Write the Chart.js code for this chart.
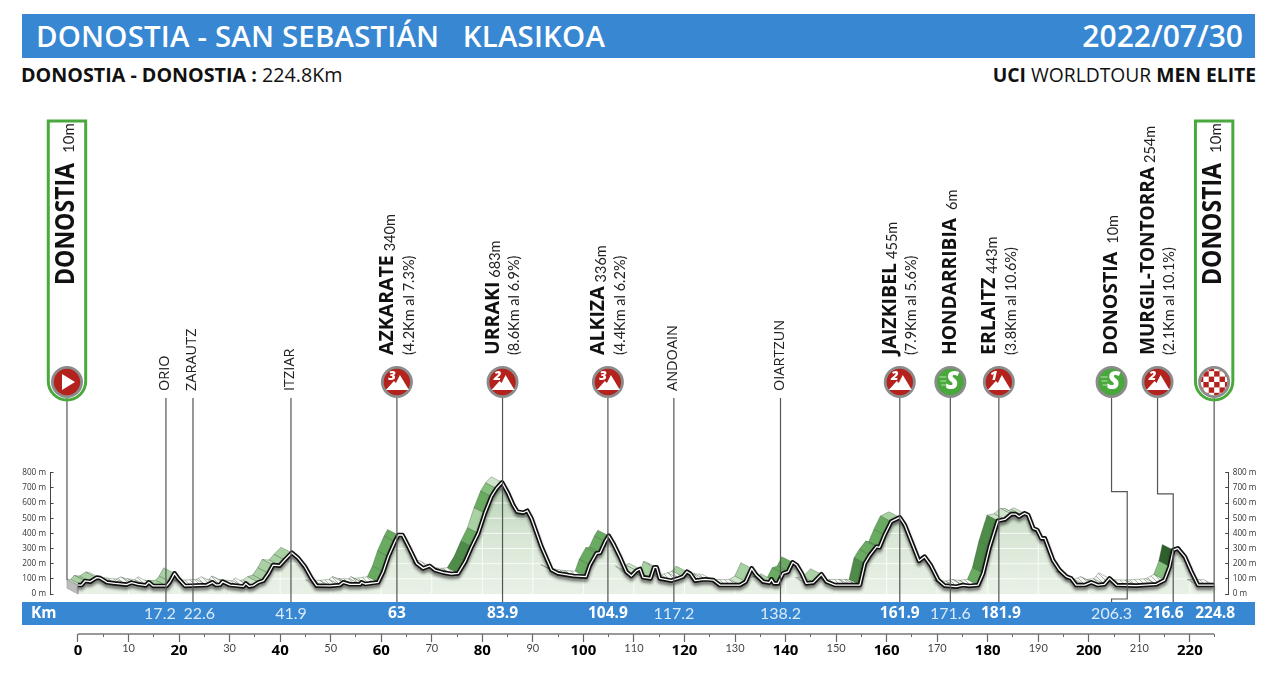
<!DOCTYPE html>
<html>
<head>
<meta charset="utf-8">
<title>Donostia - San Sebastián Klasikoa</title>
<script src="https://cdn.jsdelivr.net/npm/chart.js@4/dist/chart.umd.js"></script>
<style>
body { margin: 0; background: #fff; overflow: hidden; }
#page { position: relative; width: 1280px; height: 685px; font-family: "Open Sans", sans-serif; }
#profile { position: absolute; left: 0; top: 0; }
.bar { position: absolute; left: 22px; width: 1233px; background: #3787d2; }
.txt { position: absolute; white-space: pre; }
</style>
</head>
<body>
<div id="page">
    <div class="bar" style="top:14px;height:44px"></div>
    <div class="bar" style="top:602px;height:23px"></div>
    <div class="txt" style="left:36px;top:14px;line-height:44px;font-size:29.4px;font-weight:600;color:#fff;letter-spacing:0.2px">DONOSTIA - SAN SEBASTIÁN   KLASIKOA</div>
    <div class="txt" style="right:37px;top:14px;line-height:44px;font-size:30px;font-weight:600;color:#fff">2022/07/30</div>
    <div class="txt" style="left:21px;top:62px;line-height:26px;font-size:19.7px;color:#111"><b>DONOSTIA - DONOSTIA :</b> 224.8Km</div>
    <div class="txt" style="right:24px;top:62px;line-height:26px;font-size:19.3px;color:#111"><b>UCI</b> WORLDTOUR <b>MEN ELITE</b></div>
    <canvas id="profile" width="1280" height="685"></canvas>
</div>

<script>
// ============================== Data ==============================
const profileKm = [0, 0.7, 1.4, 2.4, 3.7, 4.4, 5.7, 7.3, 9.6, 10.6, 11.9, 13.4, 14, 14.9, 17.5, 18.2, 19.1, 19.8, 21.2,
    25.5, 26.6, 27.3, 28.1, 28.6, 30.1, 32.7, 33.2, 33.9, 34.7, 35.7, 36.7, 37.7, 38.6, 39.9, 40.9, 42.3, 43.6, 44.9,
    46.2, 47.2, 49.9, 51.8, 52.5, 53.8, 55.8, 56.1, 56.8, 59.4, 60.4, 61.4, 62.7, 63.4, 64.2, 65.4, 67, 68.3, 69.6,
    70.6, 72.3, 73.9, 75.2, 76.6, 77.9, 79.2, 80.5, 81.8, 82.8, 83.9, 85.1, 86.1, 86.9, 88.1, 88.9, 89.7, 91.7, 93.7,
    95, 98, 100.5, 101.3, 102.6, 103.3, 104.3, 105, 105.9, 107.2, 108.5, 109.5, 110.5, 111.2, 111.8, 113.3, 114, 114.5,
    115.1, 117.4, 118.8, 119.7, 120.5, 121.2, 122.1, 124, 125.7, 127, 131, 132.1, 133.3, 134.2, 135.6, 136.8, 137.2,
    137.7, 138.5, 139.5, 140.5, 141.4, 142.2, 143.2, 144.1, 145.5, 147.1, 148.1, 149.8, 152.7, 154, 154.7, 155.7,
    156.7, 158, 158.6, 159.6, 160.9, 162.6, 163.6, 164.9, 166.4, 167.5, 168.7, 170.2, 171.5, 173.8, 175.1, 176.4,
    178.1, 179.1, 180.4, 182, 183.4, 184.7, 185.5, 186.2, 186.7, 187.3, 188, 189, 189.8, 190.6, 191.3, 192.9, 194.2,
    195.6, 196.5, 197.5, 199.2, 200.5, 201.8, 203.1, 204.1, 205.5, 209.4, 213.4, 215, 216, 216.7, 217.6, 219, 220.3,
    221.6, 224.8];
const profileElev = [59, 59, 86, 81, 108, 105, 77, 70, 62, 75, 64, 57, 77, 53, 53, 81, 136, 103, 53,
    59, 77, 59, 61, 81, 59, 50, 70, 50, 55, 77, 88, 136, 191, 187, 224, 272, 235, 180,
    103, 55, 53, 59, 77, 64, 64, 77, 66, 77, 147, 246, 345, 389, 389, 312, 202, 169, 185,
    158, 141, 132, 136, 213, 312, 400, 532, 642, 696, 736, 663, 587, 543, 536, 549, 499, 312, 158,
    136, 119, 114, 191, 268, 272, 345, 384, 334, 246, 147, 119, 154, 165, 110, 103, 176, 176,
    103, 88, 103, 114, 147, 132, 88, 97, 92, 59, 59, 81, 169, 125, 81, 75, 97,
    70, 70, 136, 147, 209, 191, 136, 70, 75, 130, 81, 59, 59, 59, 59, 202,
    257, 312, 308, 389, 477, 505, 455, 345, 218, 246, 191, 92, 55, 48, 59, 53,
    59, 136, 312, 483, 492, 527, 527, 510, 521, 532, 521, 433, 422, 367, 367, 224, 158,
    114, 103, 59, 59, 77, 59, 64, 103, 59, 55, 64, 92, 180, 290, 301, 246, 147,
    59, 59];

// climbing ribbon: from km, to km, shade (index into ribbonColors)
const rampFrom = [0, 1, 14.9, 34.7, 35.7, 38.6, 40, 59.4, 75.2, 77.9, 79.2, 80.5, 81.8, 82.8, 100.5, 108.5, 111.8, 119.7,
    131, 132.1, 135.6, 138.5, 145.5, 154.7, 155.7, 160.9, 178.1, 179.1, 182, 215, 216];
const rampTo = [0.7, 3.7, 19.1, 35.7, 38.6, 39.9, 42.3, 63.4, 77.9, 79.2, 80.5, 81.8, 82.8, 83.9, 105, 111.2, 114, 120.5,
    132.1, 133.3, 137.2, 141.4, 147.1, 155.7, 160.9, 162.6, 179.1, 182, 187, 216, 216.7];
const rampShade = [2, 3, 3, 2, 3, 2, 3, 5, 6, 5, 3, 5, 4, 2, 5, 2, 3, 3,
    2, 3, 3, 5, 3, 6, 5, 3, 5, 6, 2, 4, 7];

const axisKm = [0, 10, 20, 30, 40, 50, 60, 70, 80, 90, 100, 110, 120, 130, 140, 150, 160, 170, 180, 190, 200, 210, 220];
const axisKmMinor = [5, 15, 25, 35, 45, 55, 65, 75, 85, 95, 105, 115, 125, 135, 145, 155, 165, 175, 185, 195, 205, 215, 224.8];
const axisElev = [0, 100, 200, 300, 400, 500, 600, 700, 800];

// towns and climbs along the route
const townNames = ["ORIO", "ZARAUTZ", "ITZIAR", "ANDOAIN", "OIARTZUN"];
const townKm = [17.4, 22.75, 42.14, 117.9, 139];

const climbNames = ["AZKARATE", "URRAKI", "ALKIZA", "JAIZKIBEL", "ERLAITZ", "MURGIL-TONTORRA"];
const climbHeights = ["340m", "683m", "336m", "455m", "443m", "254m"];
const climbDetails = ["(4.2Km al 7.3%)", "(8.6Km al 6.9%)", "(4.4Km al 6.2%)", "(7.9Km al 5.6%)", "(3.8Km al 10.6%)", "(2.1Km al 10.1%)"];
const climbCats = ["3", "2", "3", "2", "1", "2"];
const climbKm = [63.1, 84, 104.85, 162.6, 182.2, 213.6];

const sprintNames = ["HONDARRIBIA", "DONOSTIA"];
const sprintHeights = ["6m", "10m"];
const sprintKm = [172.6, 204.5];

const startKm = -2.18;
const finishKm = 224.8;

const bandLabels = ["17.2", "22.6", "41.9", "63", "83.9", "104.9", "117.2", "138.2", "161.9", "171.6", "181.9", "206.3", "216.6", "224.8"];
const bandKm = [16.2, 24, 42.14, 63.1, 84, 104.85, 117.9, 139, 162.6, 172.6, 182.6, 204.5, 214.8, 225];
const bandBold = [false, false, false, true, true, true, false, false, true, false, true, false, true, true];

// ============================== Styles ==============================
const RIBBON_KM = -2.15, RIBBON_M = 37;
const LEADER_TOP = 1293, LEADER_BOTTOM = -53, AXIS_LEVEL = -264;
const sans = '"Open Sans", sans-serif';
const thin = 'Lato, "Open Sans", sans-serif';

function hatchPattern() {
    const c = document.createElement("canvas");
    c.width = c.height = 5;
    const g = c.getContext("2d");
    g.fillStyle = "#f6f8f4";
    g.fillRect(0, 0, 5, 5);
    g.strokeStyle = "#9aa59a";
    g.lineWidth = 0.8;
    g.beginPath();
    g.moveTo(0, 0);
    g.lineTo(5, 5);
    g.stroke();
    return document.getElementById("profile").getContext("2d").createPattern(c, "repeat");
}

const ribbonColors = [null, hatchPattern(), "#cfe5cb", "#a9d1a4", "#86c07e", "#6aab62", "#4f8b49", "#2f5f2d"];

function shadeFor(i) {
    const mid = (profileKm[i] + profileKm[i + 1]) / 2;
    for (let r = 0; r < rampFrom.length; r++) {
        if (mid >= rampFrom[r] && mid <= rampTo[r]) return rampShade[r];
    }
    const slope = (profileElev[i + 1] - profileElev[i]) / (profileKm[i + 1] - profileKm[i]);
    if (slope < -20 || profileElev[i] > 200) return 0;
    return 1; // flat stretch
}

function lineSet(points, color, width, order, extra) {
    return Object.assign({
        data: points, borderColor: color, borderWidth: width, pointRadius: 0,
        clip: false, order: order, fill: false, tension: 0
    }, extra);
}

// ============================== Datasets ==============================
const profilePoints = profileKm.map((km, i) => ({ x: km, y: profileElev[i] }));
const datasets = [];

datasets.push(lineSet(profilePoints, "rgba(0,0,0,0)", 0, 60, {
    fill: "origin",
    backgroundColor: (c) => {
        const { ctx, chartArea, scales } = c.chart;
        if (!chartArea) return "#e6efe3";
        const g = ctx.createLinearGradient(0, scales.y.getPixelForValue(740), 0, scales.y.getPixelForValue(0));
        g.addColorStop(0, "#b4d0b2");
        g.addColorStop(0.5, "#d9e7d6");
        g.addColorStop(1, "#e9f1e6");
        return g;
    }
}));

axisKm.forEach((km) => datasets.push(lineSet([{ x: km, y: 0 }, { x: km, y: 800 }], "rgba(255,255,255,0.8)", 1, 50)));
axisElev.slice(1, -1).forEach((m) => datasets.push(lineSet([{ x: 0, y: m }, { x: 224.8, y: m }], "rgba(255,255,255,0.8)", 1, 50)));

// grey front of the extruded road at the start
datasets.push(lineSet([{ x: startKm, y: 92 }, { x: 0, y: 59 }, { x: 0, y: 0 }, { x: startKm, y: 38 }, { x: startKm, y: 92 }],
    "#9c9c9c", 0.6, 45, { fill: "shape", backgroundColor: "#bdbdbd" }));

// ribbon cells, one for each stretch of road
for (let i = 0; i < profileKm.length - 1; i++) {
    const shade = shadeFor(i);
    if (!shade) continue;
    const a = profilePoints[i], b = profilePoints[i + 1];
    const cell = [a, b, { x: b.x + RIBBON_KM, y: b.y + RIBBON_M }, { x: a.x + RIBBON_KM, y: a.y + RIBBON_M }, a];
    datasets.push(lineSet(cell, "rgba(50,80,50,0.55)", 0.6, 40, { fill: "shape", backgroundColor: ribbonColors[shade] }));
}

// road: black casing with a white core
datasets.push(lineSet(profilePoints, "#111", 4.6, 20, { castShadow: true, borderJoinStyle: "round" }));
datasets.push(lineSet(profilePoints, "#fff", 1.3, 10, { borderJoinStyle: "round" }));

// leader lines from the icons down to the km band
const leaderColor = "#555";
function leader(km) {
    datasets.push(lineSet([{ x: km, y: LEADER_TOP }, { x: km, y: LEADER_BOTTOM }], leaderColor, 1.2, 5));
}
townKm.forEach(leader);
climbKm.slice(0, 5).forEach(leader);
leader(sprintKm[0]);
leader(finishKm);
datasets.push(lineSet([{ x: startKm, y: LEADER_TOP }, { x: startKm, y: 92 }], leaderColor, 1.2, 5));
// the last two leaders step aside to reach their real km
datasets.push(lineSet([{ x: 204.5, y: LEADER_TOP }, { x: 204.5, y: 675 }, { x: 207.6, y: 675 }, { x: 207.6, y: -33 }, { x: 204.5, y: -33 }, { x: 204.5, y: LEADER_BOTTOM }], leaderColor, 1.2, 5));
datasets.push(lineSet([{ x: 213.6, y: LEADER_TOP }, { x: 213.6, y: 660 }, { x: 216.7, y: 660 }, { x: 216.7, y: LEADER_BOTTOM }], leaderColor, 1.2, 5));

// km axis line
datasets.push(lineSet([{ x: 0, y: AXIS_LEVEL }, { x: 224.8, y: AXIS_LEVEL }], "#777", 1.4, 5));

// ============================== Labels and icons ==============================
function upText(ctx, parts, x, y) {
    ctx.save();
    ctx.translate(x, y);
    ctx.rotate(-Math.PI / 2);
    ctx.textAlign = "left";
    ctx.textBaseline = "middle";
    let along = 0;
    parts.forEach((p) => {
        ctx.font = p.font;
        ctx.fillStyle = p.color || "#111";
        const width = p.fit ? Math.min(p.fit, ctx.measureText(p.text).width) : ctx.measureText(p.text).width;
        ctx.fillText(p.text, along, p.shift || 0, width);
        along += width + (p.gap || 0);
    });
    ctx.restore();
}

function iconBase(ctx, x, y, color) {
    ctx.beginPath();
    ctx.arc(x, y, 16, 0, Math.PI * 2);
    ctx.fillStyle = "#8b8b8b";
    ctx.fill();
    ctx.beginPath();
    ctx.arc(x, y, 13.2, 0, Math.PI * 2);
    ctx.fillStyle = color;
    ctx.fill();
}

function climbIcon(ctx, x, y, cat) {
    iconBase(ctx, x, y, "#b3221c");
    ctx.fillStyle = "#fff";
    ctx.beginPath();
    ctx.moveTo(x - 11, y + 8);
    ctx.lineTo(x - 3, y - 1);
    ctx.lineTo(x - 1, y + 1);
    ctx.lineTo(x + 3, y - 7);
    ctx.lineTo(x + 12, y + 8);
    ctx.closePath();
    ctx.fill();
    ctx.font = "italic 800 13px " + sans;
    ctx.textAlign = "center";
    ctx.textBaseline = "middle";
    ctx.fillText(cat, x - 5, y - 6);
}

function sprintIcon(ctx, x, y) {
    iconBase(ctx, x, y, "#49a83b");
    ctx.strokeStyle = "#b9e0b0";
    ctx.lineWidth = 1.2;
    ctx.beginPath();
    [-5, -1, 3].forEach((dy, i) => {
        ctx.moveTo(x - 11 + i, y + dy);
        ctx.lineTo(x - 4, y + dy);
    });
    ctx.stroke();
    ctx.fillStyle = "#fff";
    ctx.font = "italic 800 24px " + sans;
    ctx.textAlign = "center";
    ctx.textBaseline = "middle";
    ctx.fillText("S", x + 2, y);
}

function startIcon(ctx, x, y) {
    iconBase(ctx, x, y, "#b3221c");
    ctx.fillStyle = "#fff";
    ctx.beginPath();
    ctx.moveTo(x - 5, y - 8);
    ctx.lineTo(x + 8, y);
    ctx.lineTo(x - 5, y + 8);
    ctx.closePath();
    ctx.fill();
}

function finishIcon(ctx, x, y) {
    iconBase(ctx, x, y, "#fff");
    ctx.save();
    ctx.beginPath();
    ctx.arc(x, y, 13.2, 0, Math.PI * 2);
    ctx.clip();
    ctx.fillStyle = "#b3221c";
    for (let r = -3; r < 3; r++) {
        for (let c = -3; c < 3; c++) {
            if ((r + c) % 2 === 0) ctx.fillRect(x + c * 5.4, y + r * 5.4, 5.4, 5.4);
        }
    }
    ctx.restore();
}

function flag(ctx, x) {
    ctx.beginPath();
    ctx.roundRect(x - 18.7, 121, 37.4, 279, [0, 0, 19, 19]);
    ctx.strokeStyle = "#4aa93c";
    ctx.lineWidth = 3;
    ctx.stroke();
}

const profileDecor = {
    id: "profileDecor",
    beforeDatasetDraw(chart, args) {
        if (args.meta.controller.getDataset().castShadow) {
            chart.ctx.save();
            chart.ctx.shadowColor = "rgba(0,0,0,0.5)";
            chart.ctx.shadowBlur = 3;
            chart.ctx.shadowOffsetY = 3;
        }
    },
    afterDatasetDraw(chart, args) {
        if (args.meta.controller.getDataset().castShadow) chart.ctx.restore();
    },
    afterDraw(chart) {
        const ctx = chart.ctx;
        const px = (km) => chart.scales.x.getPixelForValue(km);
        const ICON_Y = 382, TEXT_Y = 355;
        ctx.save();

        // start and finish flags
        [startKm, finishKm].forEach((km) => {
            flag(ctx, px(km));
            upText(ctx, [
                { text: "DONOSTIA", font: "700 26px " + sans, gap: 10, fit: 122 },
                { text: "10m", font: "400 15px " + thin, shift: 3, color: "#222" }
            ], px(km) - 0.5, 285);
        });
        startIcon(ctx, px(startKm), ICON_Y);
        finishIcon(ctx, px(finishKm), ICON_Y);

        townNames.forEach((name, i) => {
            upText(ctx, [{ text: name, font: "400 14.5px " + sans, color: "#222" }], px(townKm[i]) - 1, 391);
        });

        climbNames.forEach((name, i) => {
            const x = px(climbKm[i]);
            upText(ctx, [
                { text: name, font: "700 19.5px " + sans, gap: 4, fit: 188 },
                { text: climbHeights[i], font: "400 14.5px " + thin, shift: 2, color: "#222" }
            ], x - 9, TEXT_Y);
            upText(ctx, [{ text: climbDetails[i], font: "400 14.5px " + thin, color: "#222" }], x + 12, TEXT_Y);
            climbIcon(ctx, x, ICON_Y, climbCats[i]);
        });

        sprintNames.forEach((name, i) => {
            const x = px(sprintKm[i]);
            upText(ctx, [
                { text: name, font: "700 19.5px " + sans, gap: 8, fit: 137 },
                { text: sprintHeights[i], font: "400 14.5px " + thin, shift: 2, color: "#222" }
            ], x, TEXT_Y);
            sprintIcon(ctx, x, ICON_Y);
        });

        // km band
        ctx.textBaseline = "middle";
        ctx.textAlign = "left";
        ctx.fillStyle = "#fff";
        ctx.font = "700 15.5px " + sans;
        ctx.fillText("Km", 31, 614);
        ctx.textAlign = "center";
        bandLabels.forEach((label, i) => {
            ctx.font = (bandBold[i] ? "700 15.5px " + sans : "400 16px " + thin);
            ctx.fillStyle = bandBold[i] ? "#fff" : "#dcebf8";
            ctx.fillText(label, px(bandKm[i]), 614);
        });
        ctx.restore();
    }
};

// ============================== Chart ==============================
function elevAxis(position) {
    return {
        type: "linear", position: position, min: 0, max: 800,
        afterBuildTicks: (s) => { s.ticks = axisElev.map((v) => ({ value: v })); },
        afterFit: (s) => { s.width = position === "left" ? 50 : 51.3; },
        grid: { drawOnChartArea: false, tickLength: -3.5, color: "#444" },
        border: { color: "#444", width: 1 },
        ticks: { padding: 7.5, color: "#333", font: { family: "Open Sans", size: 8.2 }, callback: (v) => v + " m" }
    };
}

const isMajorKm = (c) => c.tick && c.tick.value % 20 === 0;

new Chart(document.getElementById("profile"), {
    type: "line",
    data: { datasets: datasets },
    plugins: [profileDecor],
    options: {
        responsive: false,
        animation: false,
        events: [],
        layout: { padding: { top: 472.7, bottom: 91, left: 0, right: 0 } },
        plugins: { legend: { display: false }, tooltip: { enabled: false }, title: { display: false } },
        scales: {
            x: {
                type: "linear", axis: "x", position: { y: AXIS_LEVEL }, min: -5.54, max: 227.68,
                afterBuildTicks: (s) => { s.ticks = axisKm.map((v) => ({ value: v })); },
                grid: { drawOnChartArea: false, tickLength: 8, color: "#666", tickWidth: 1.2 },
                border: { display: false },
                ticks: {
                    padding: 0, maxRotation: 0, minRotation: 0, autoSkip: false,
                    callback: (v) => String(v),
                    color: (c) => (isMajorKm(c) ? "#000" : "#444"),
                    font: (c) => (isMajorKm(c)
                        ? { family: "Open Sans", size: 15, weight: "700" }
                        : { family: "Lato", size: 11, weight: "400" })
                }
            },
            xMinor: {
                type: "linear", axis: "x", position: { y: AXIS_LEVEL }, min: -5.54, max: 227.68,
                afterBuildTicks: (s) => { s.ticks = axisKmMinor.map((v) => ({ value: v })); },
                grid: { drawOnChartArea: false, tickLength: 3, color: "#666", tickWidth: 1 },
                border: { display: false },
                ticks: { callback: () => "", maxRotation: 0, minRotation: 0, autoSkip: false }
            },
            y: elevAxis("left"),
            yRight: elevAxis("right")
        }
    }
});
</script>
</body>
</html>
